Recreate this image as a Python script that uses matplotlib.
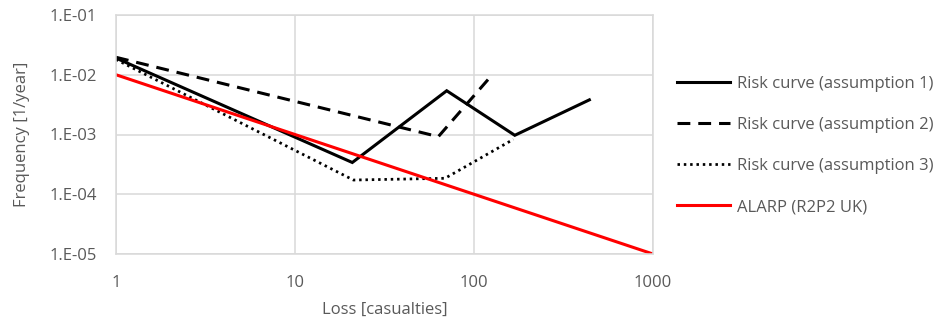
import matplotlib
matplotlib.use("Agg")
import matplotlib.pyplot as plt
from matplotlib.ticker import FixedLocator, NullLocator

plt.rcParams['font.family'] = ['Open Sans', 'DejaVu Sans']

# Data
x1 = [1, 20.9, 70.4, 169, 441]
y1 = [0.019, 3.4e-4, 5.4e-3, 9.7e-4, 3.8e-3]
x2 = [1, 63.2, 123]
y2 = [0.0196, 9.2e-4, 9.1e-3]
x3 = [1, 21.2, 68.9, 166]
y3 = [0.018, 1.73e-4, 1.85e-4, 8.3e-4]
x_alarp = [1, 1000]
y_alarp = [1e-2, 1e-5]
labels = ["Risk curve (assumption 1)", "Risk curve (assumption 2)",
          "Risk curve (assumption 3)", "ALARP (R2P2 UK)"]
xticks = [1, 10, 100, 1000]
xticklabels = ["1", "10", "100", "1000"]
yticks = [1e-5, 1e-4, 1e-3, 1e-2, 1e-1]
yticklabels = ["1.E-05", "1.E-04", "1.E-03", "1.E-02", "1.E-01"]

W, H = 937, 320
fig = plt.figure(figsize=(W/100, H/100), dpi=100)
ax = fig.add_axes([116/W, 1-254/H, (653-116)/W, (254-15)/H])
ax.set_xscale('log')
ax.set_yscale('log')

lw = 2.2
ax.plot(x1, y1, color='black', lw=lw, label=labels[0], solid_joinstyle='miter')
ax.plot(x2, y2, color='black', lw=lw, dashes=(4.2, 2.6), label=labels[1])
ax.plot(x3, y3, color='black', lw=lw*0.9, dashes=(0.9, 1.4), label=labels[2])
ax.plot(x_alarp, y_alarp, color='#ff0000', lw=lw, label=labels[3])

ax.set_xlim(1, 1000)
ax.set_ylim(1e-5, 1e-1)
ax.xaxis.set_major_locator(FixedLocator(xticks))
ax.xaxis.set_minor_locator(NullLocator())
ax.yaxis.set_major_locator(FixedLocator(yticks))
ax.yaxis.set_minor_locator(NullLocator())
ax.set_xticklabels(xticklabels)
ax.set_yticklabels(yticklabels)

tc = '#595959'
ax.tick_params(axis='both', length=0, labelsize=12, labelcolor=tc)
ax.tick_params(axis='x', pad=15)
ax.tick_params(axis='y', pad=14)
ax.grid(True, color='#d9d9d9', lw=1.1)
ax.set_axisbelow(True)
for s in ax.spines.values():
    s.set_color('#d9d9d9')
    s.set_linewidth(1.1)

ax.set_xlabel("Loss [casualties]", fontsize=12, color=tc, labelpad=8)
ax.set_ylabel("Frequency [1/year]", fontsize=12, color=tc, labelpad=14)

leg = fig.legend(loc='upper left', bbox_to_anchor=(670/W, 1-69/H), frameon=False,
                 fontsize=12, labelcolor=tc, handlelength=3.2, handletextpad=0.42,
                 labelspacing=1.51, borderaxespad=0)

fig.savefig("out.png", dpi=100)
